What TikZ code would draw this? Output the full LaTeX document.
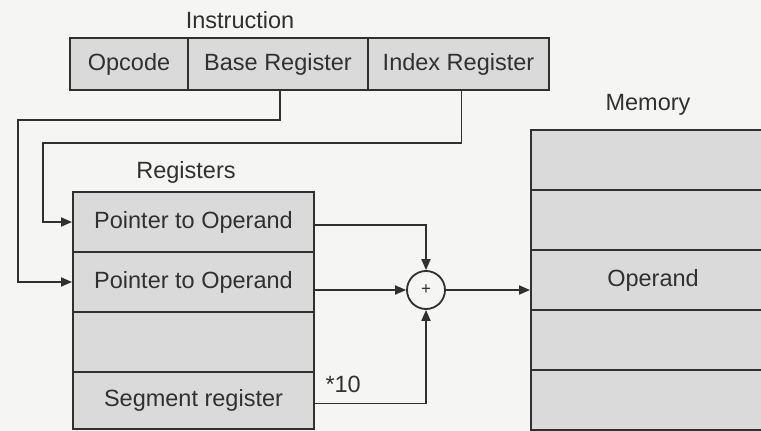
\documentclass[tikz,border=0pt]{standalone}
\usepackage{fontspec}
\setmainfont{Liberation Sans}
\usetikzlibrary{arrows.meta,calc}
\definecolor{ink}{HTML}{303030}
\definecolor{cellfill}{HTML}{DADADA}
\definecolor{paper}{HTML}{F5F5F3}
\begin{document}
\begin{tikzpicture}[x=1pt,y=-1pt,
  every node/.style={font=\fontsize{23.5}{27}\selectfont, text=ink},
  cell/.style={draw=ink, fill=cellfill, line width=1.9pt, inner sep=0pt, minimum height=52pt},
  regcell/.style={draw=ink, fill=cellfill, line width=1.9pt, inner sep=0pt, minimum width=241pt, minimum height=60pt},
  memcell/.style={draw=ink, fill=cellfill, line width=1.9pt, inner sep=0pt, minimum width=244pt, minimum height=60pt},
  conn/.style={draw=ink, line width=1.8pt},
  arr/.style={conn, -{Triangle[length=11pt,width=9pt]}},
  adder/.style={draw=ink, fill=paper, line width=1.8pt, circle, minimum size=38pt, inner sep=0pt, font=\fontsize{17}{17}\selectfont}
]
\useasboundingbox (0,0) rectangle (761,431);
\clip (0,0) rectangle (761,431);
\fill[paper] (0,0) rectangle (761,431);

% Instruction
\node (instr) at (240,20) {Instruction};
\node[cell, minimum width=118pt] (opcode) at (129,64) {Opcode};
\node[cell, minimum width=180pt] (base) at (278,64) {Base Register};
\node[cell, minimum width=181pt] (index) at (458.5,64) {Index Register};

% Registers
\node (reglabel) at (186,172) {Registers};
\node[regcell] (r1) at (193.5,222) {Pointer to Operand};
\node[regcell] (r2) at (193.5,282) {Pointer to Operand};
\node[regcell] (r3) at (193.5,342) {};
\node[regcell, minimum height=57pt] (r4) at (193.5,400.5) {Segment register};

% Memory
\node (memlabel) at (648,105) {Memory};
\node[memcell] (m1) at (653,160) {};
\node[memcell] (m2) at (653,220) {};
\node[memcell] (m3) at (653,280) {Operand};
\node[memcell] (m4) at (653,340) {};
\node[memcell] (m5) at (653,400) {};

% Adder
\node[adder] (add) at (426,290) {+};

% Connectors
\coordinate (bl) at (18,120);
\coordinate (il) at (43,143);
\draw[arr] ([xshift=2pt]base.south) |- (bl) |- (r2.west);
\draw[arr] ([xshift=3pt]index.south) |- (il) |- (r1.west);
\draw[arr] ([yshift=-3pt]r1.east) -| (add.north);
\draw[arr] (r2.east |- add.west) -- (add.west);
\draw[arr] ([yshift=-3pt]r4.east) -| (add.south);
\draw[arr] (add.east) -- (add.east -| m3.west);
\node[anchor=base west] (ten) at (322,392) {*10};
\end{tikzpicture}
\end{document}
